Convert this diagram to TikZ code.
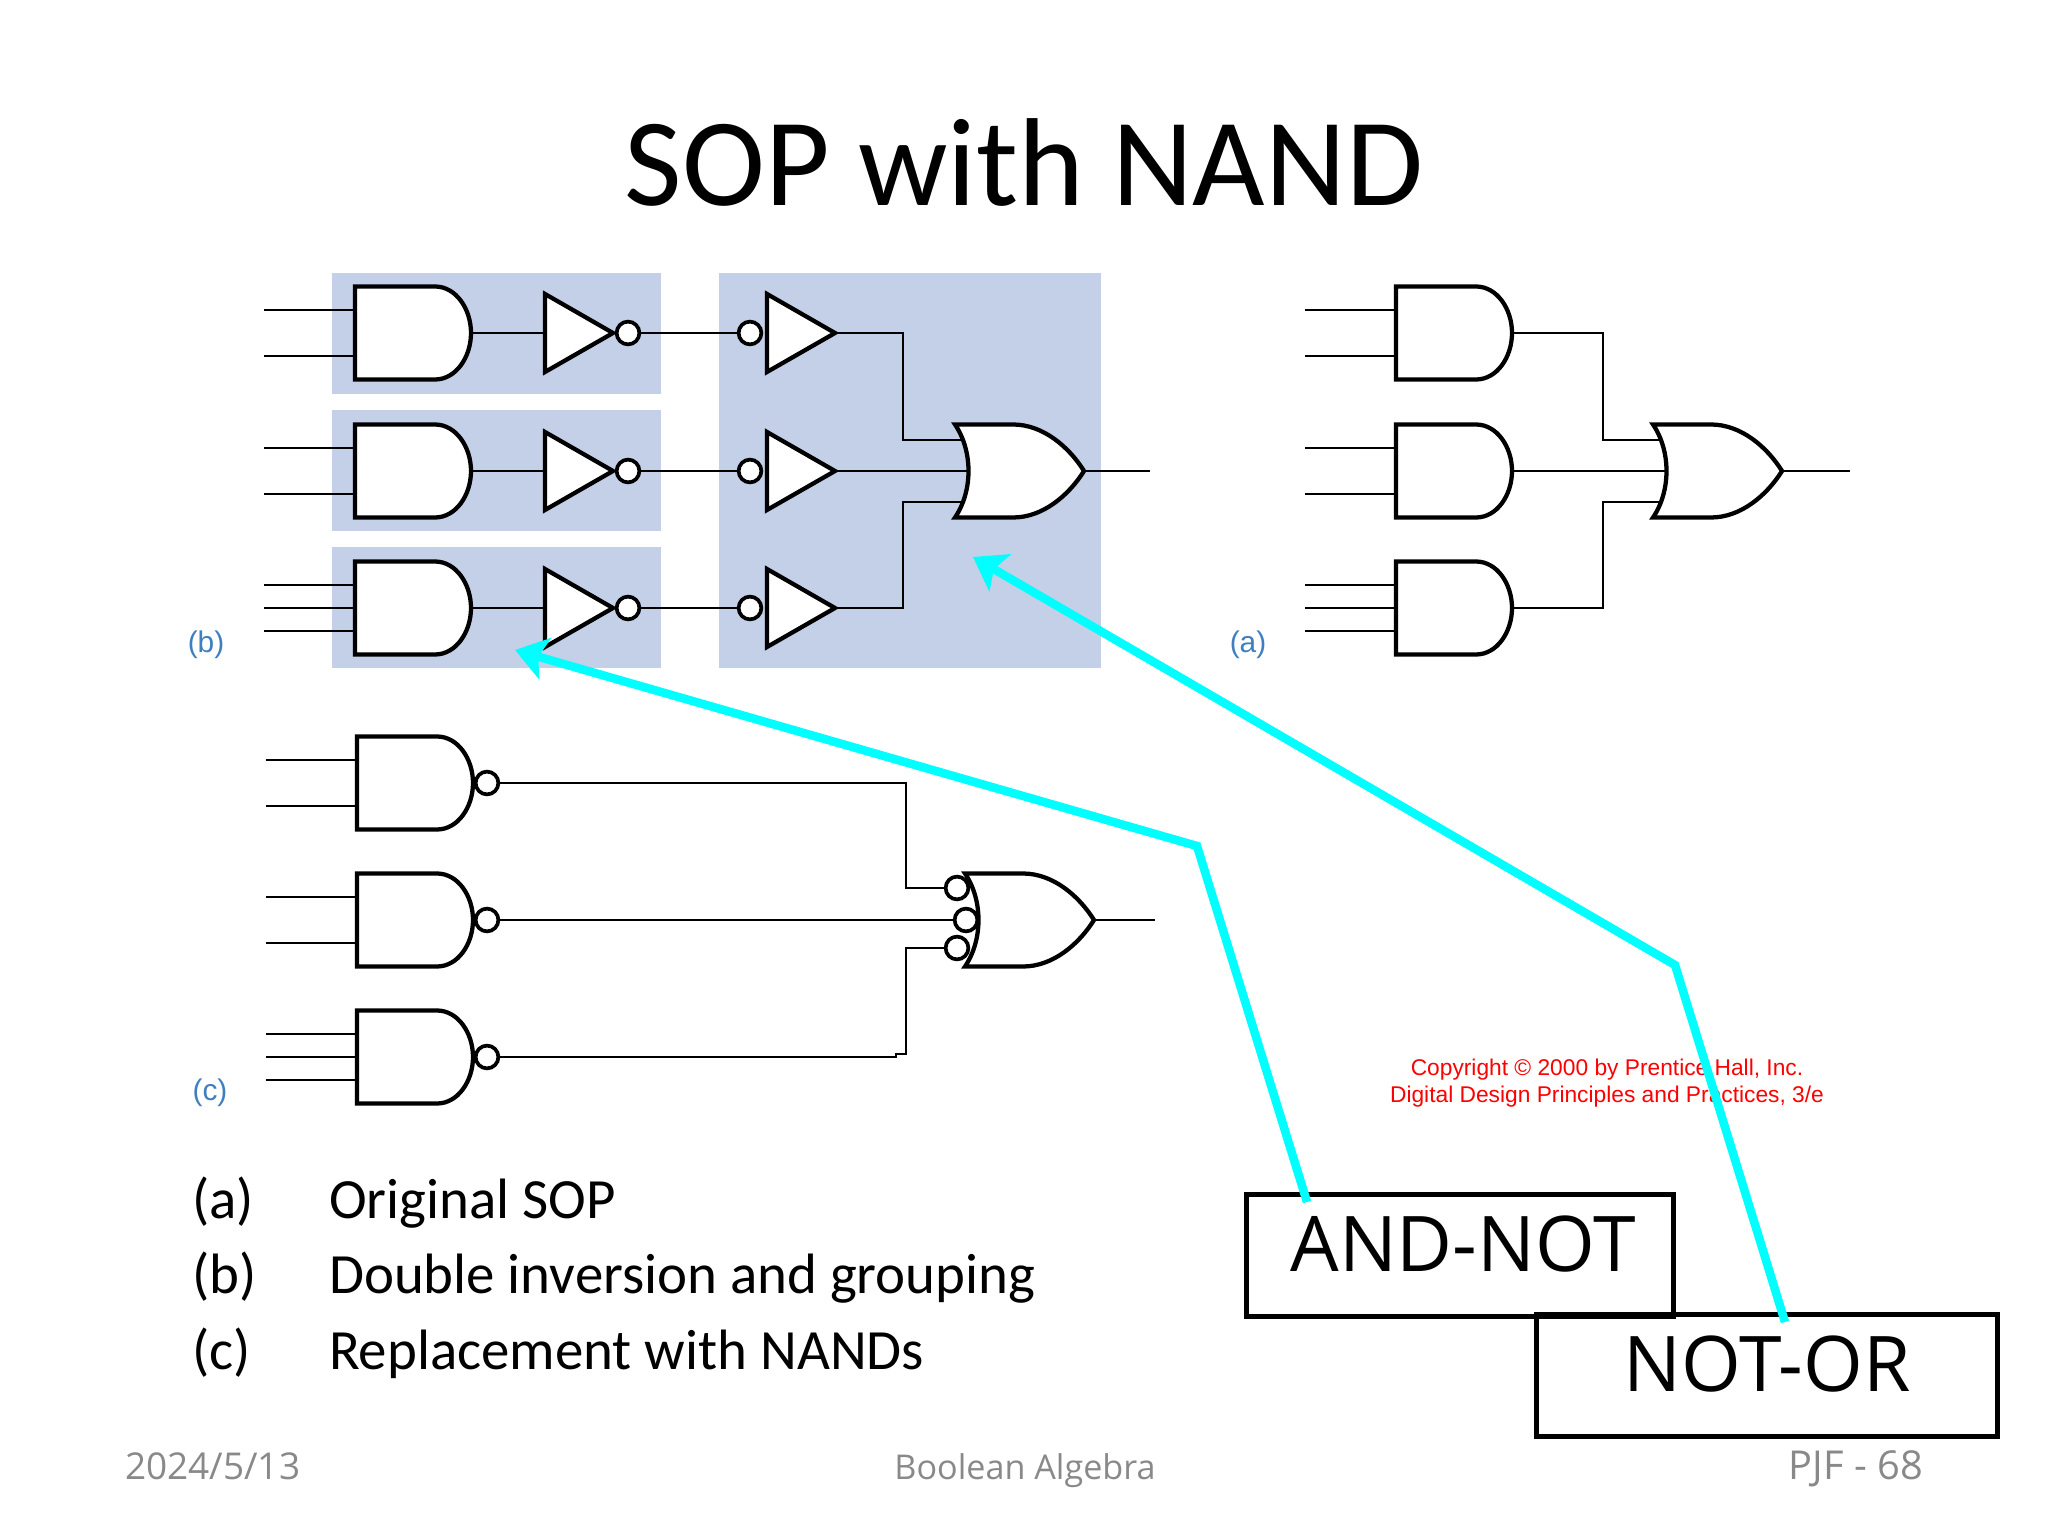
\documentclass[tikz,border=0pt]{standalone}
\usepackage{fontspec}
\setmainfont{Carlito}
\newfontfamily\handfont{Open Sans}
\newfontfamily\figfont{Liberation Sans}
\usetikzlibrary{arrows.meta, positioning}
\definecolor{panelblue}{HTML}{C3D0E8}
\definecolor{figlabel}{HTML}{3F7FBF}
\definecolor{footgrey}{HTML}{898989}
\definecolor{pointercyan}{HTML}{00FFFF}
\tikzset{
    wire/.style={line width=0.85pt},
    gateline/.style={line width=1.5pt, fill=white, line join=miter},
    panel/.style={fill=panelblue},
    bubble/.style={circle, draw, fill=white, line width=1.3pt, inner sep=0pt, minimum size=8pt},
    pointer/.style={-{Stealth[length=11pt, width=15pt, inset=2.5pt]}, draw=pointercyan, line width=3pt},
    labelbox/.style={draw, line width=1.8pt, anchor=north west, inner sep=0pt},
    figtag/.style={text=figlabel, font=\figfont\fontsize{10.5}{12}\selectfont},
    caption/.style={anchor=base west, font=\fontsize{20}{24}\selectfont},
    footer/.style={text=footgrey},
    tagtext/.style={anchor=base, font=\handfont\fontsize{27}{30}\selectfont},
    andtwo/.pic={
        \draw[gateline] (0,-46.5) -- (80,-46.5) .. controls (101,-46.5) and (116,-24) .. (116,0)
            .. controls (116,24) and (101,46.5) .. (80,46.5) -- (0,46.5) -- cycle;
        \coordinate (-out) at (116,0);
        \coordinate (-a) at (-91,-23);
        \coordinate (-b) at (-91,23);
        \draw[wire] (-a) -- (0,-23);
        \draw[wire] (-b) -- (0,23);
    },
    andthree/.pic={
        \draw[gateline] (0,-46.5) -- (80,-46.5) .. controls (101,-46.5) and (116,-24) .. (116,0)
            .. controls (116,24) and (101,46.5) .. (80,46.5) -- (0,46.5) -- cycle;
        \coordinate (-out) at (116,0);
        \coordinate (-a) at (-91,-23);
        \coordinate (-b) at (-91,0);
        \coordinate (-c) at (-91,23);
        \draw[wire] (-a) -- (0,-23);
        \draw[wire] (-b) -- (0,0);
        \draw[wire] (-c) -- (0,23);
    },
    orgate/.pic={
        \draw[gateline] (0,-46.5) -- (58,-46.5) .. controls (88,-46.5) and (114,-24) .. (129,0)
            .. controls (114,24) and (88,46.5) .. (58,46.5) -- (0,46.5)
            .. controls (18,20) and (18,-20) .. (0,-46.5) -- cycle;
        \coordinate (-a) at (8,-31);
        \coordinate (-b) at (13,0);
        \coordinate (-c) at (8,31);
        \coordinate (-out) at (129,0);
    },
    tri/.pic={
        \draw[gateline] (0,-39) -- (68,0) -- (0,39) -- cycle;
        \coordinate (-in) at (0,0);
        \coordinate (-out) at (68,0);
    },
}

\begin{document}
\begin{tikzpicture}[x=0.3515625pt, y=-0.3515625pt]
    \useasboundingbox (0,0) rectangle (2048,1536);

    \node (title) at (1024,206) [anchor=base] {\fontsize{44}{50}\selectfont SOP with NAND};

    % picture (b)
    \fill[panel] (332,273) rectangle (661,394);
    \fill[panel] (332,410) rectangle (661,531);
    \fill[panel] (332,547) rectangle (661,668);
    \fill[panel] (719,273) rectangle (1101,668);

    \pic (g1) at (355,333) {andtwo};
    \pic (g2) at (355,471) {andtwo};
    \pic (g3) at (355,608) {andthree};
    \pic (t1) at (545,333) {tri};
    \pic (t2) at (545,471) {tri};
    \pic (t3) at (545,608) {tri};
    \node[bubble] (n1) at (628,333) {};
    \node[bubble] (n2) at (628,471) {};
    \node[bubble] (n3) at (628,608) {};
    \node[bubble] (m1) at (750,333) {};
    \node[bubble] (m2) at (750,471) {};
    \node[bubble] (m3) at (750,608) {};
    \pic (u1) at (767,333) {tri};
    \pic (u2) at (767,471) {tri};
    \pic (u3) at (767,608) {tri};
    \pic (orb) at (955,471) {orgate};
    \coordinate (bj1) at (903,440);
    \coordinate (bj3) at (903,502);
    \coordinate (bend) at (1150,471);

    \draw[wire] (g1-out) -- (t1-in);
    \draw[wire] (g2-out) -- (t2-in);
    \draw[wire] (g3-out) -- (t3-in);
    \draw[wire] (n1) -- (m1);
    \draw[wire] (n2) -- (m2);
    \draw[wire] (n3) -- (m3);
    \draw[wire] (u1-out) -| (bj1) -- (orb-a);
    \draw[wire] (u2-out) -- (orb-b);
    \draw[wire] (u3-out) -| (bj3) -- (orb-c);
    \draw[wire] (orb-out) -- (bend);
    \node[figtag] (labb) at (206,645) {(b)};

    % picture (a)
    \pic (h1) at (1396,333) {andtwo};
    \pic (h2) at (1396,471) {andtwo};
    \pic (h3) at (1396,608) {andthree};
    \pic (ora) at (1653,471) {orgate};
    \coordinate (aj1) at (1603,440);
    \coordinate (aj3) at (1603,502);
    \coordinate (aend) at (1850,471);
    \draw[wire] (h1-out) -| (aj1) -- (ora-a);
    \draw[wire] (h2-out) -- (ora-b);
    \draw[wire] (h3-out) -| (aj3) -- (ora-c);
    \draw[wire] (ora-out) -- (aend);
    \node[figtag] (laba) at (1248,645) {(a)};

    % picture (c)
    \pic (k1) at (357,783) {andtwo};
    \pic (k2) at (357,920) {andtwo};
    \pic (k3) at (357,1057) {andthree};
    \node[bubble] (p1) at (487,783) {};
    \node[bubble] (p2) at (487,920) {};
    \node[bubble] (p3) at (487,1057) {};
    \pic (orc) at (965,920) {orgate};
    \node[bubble] (q1) at (957,888) {};
    \node[bubble] (q2) at (966,920) {};
    \node[bubble] (q3) at (957,948) {};
    \coordinate (cj1) at (906,888);
    \coordinate (cj3) at (906,948);
    \coordinate (cjog1) at (896,1057);
    \coordinate (cjog2) at (896,1054);
    \coordinate (cend) at (1155,920);
    \draw[wire] (p1) -| (cj1) -- (q1);
    \draw[wire] (p2) -- (q2);
    \draw[wire] (p3) -- (cjog1) -- (cjog2) -| (cj3) -- (q3);
    \draw[wire] (orc-out) -- (cend);
    \node[figtag] (labc) at (210,1093) {(c)};

    \node[text=red, align=center, font=\figfont\fontsize{8}{9.7}\selectfont] (copy) at (1607,1083) {Copyright © 2000 by Prentice Hall, Inc.\\ Digital Design Principles and Practices, 3/e};

    % caption lines
    \node[caption] (ca) at (182,1218) {(a)};
    \node[caption] (ta) at (319,1218) {Original SOP};
    \node[caption] (cb) at (182,1293) {(b)};
    \node[caption] (tb) at (319,1293) {Double inversion and grouping};
    \node[caption] (cc) at (182,1369) {(c)};
    \node[caption] (tc) at (319,1369) {Replacement with NANDs};

    % footer
    \node[footer, anchor=base west] (fd) at (115,1479) {\handfont\fontsize{13}{15}\selectfont 2024/5/13};
    \node[footer, anchor=base] (fm) at (1025,1479) {\handfont\fontsize{12}{15}\selectfont Boolean Algebra};
    \node[footer, anchor=base east] (fp) at (1933,1479) {\handfont\fontsize{14}{15}\selectfont PJF - 68};

    % the two tags
    \node[labelbox, minimum width=150pt, minimum height=43pt] (andbox) at (1244,1192) {};
    \node[labelbox, minimum width=162pt, minimum height=43pt] (notbox) at (1534,1312) {};
    \node[tagtext] (andtxt) at (1463,1271) {AND-NOT};
    \node[tagtext] (nottxt) at (1767,1391) {NOT-OR};

    \coordinate (s1) at (1307,1202);
    \coordinate (k4) at (1197,846);
    \coordinate (e1) at (515,650);
    \coordinate (s2) at (1785,1322);
    \coordinate (k5) at (1675,965);
    \coordinate (e2) at (973,557);
    \draw[pointer] (s1) -- (k4) -- (e1);
    \draw[pointer] (s2) -- (k5) -- (e2);
\end{tikzpicture}
\end{document}
